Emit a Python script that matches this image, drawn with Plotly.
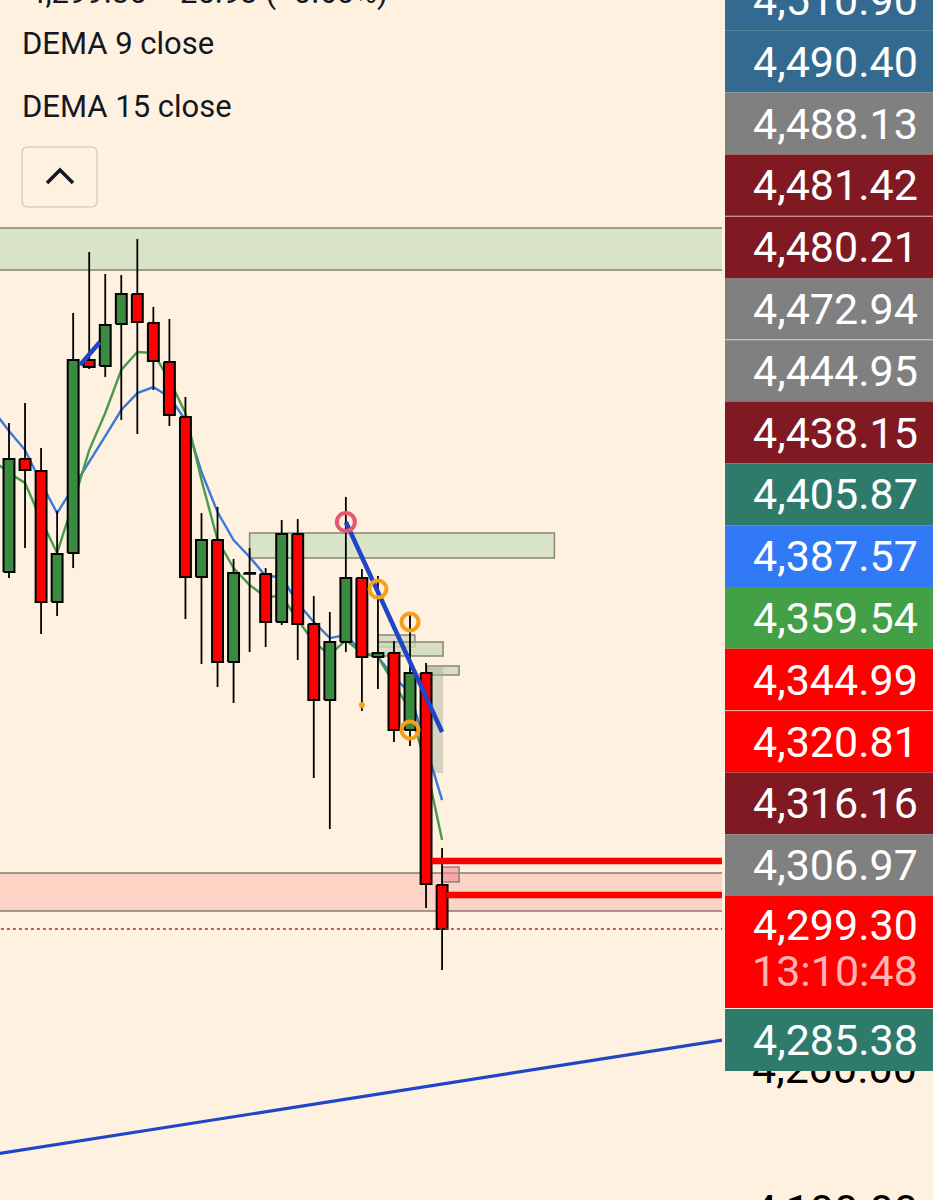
import plotly.graph_objects as go

W, H = 933, 1200
PLOT_RIGHT = 722
BG = "#fef1e0"
FONT = "Roboto"

# ---- candles (bar index, OHLC) ----
bar_idx = list(range(28))
opens = [4554.3, 4635.0, 4626.4, 4532.9, 4567.9, 4705.7, 4701.4, 4731.4, 4752.9, 4732.1,
         4704.3, 4665.0, 4550.7, 4577.1, 4490.0, 4553.6, 4552.9, 4518.6, 4581.4, 4517.1,
         4462.9, 4504.3, 4550.0, 4493.6, 4496.4, 4441.4, 4482.1, 4330.7]
highs = [4660.7, 4675.0, 4642.9, 4597.9, 4739.3, 4782.9, 4767.1, 4766.4, 4792.1, 4743.6,
         4735.0, 4679.3, 4596.4, 4600.7, 4563.6, 4571.4, 4557.1, 4591.4, 4592.1, 4537.1,
         4525.7, 4607.9, 4556.4, 4551.4, 4505.0, 4525.0, 4489.3, 4357.1]
lows = [4550.0, 4571.4, 4510.0, 4522.9, 4557.1, 4699.3, 4693.6, 4662.9, 4652.9, 4684.3,
        4658.6, 4520.7, 4488.6, 4472.1, 4460.7, 4497.1, 4500.7, 4516.4, 4491.4, 4407.1,
        4370.7, 4497.1, 4455.0, 4470.7, 4432.9, 4430.0, 4314.3, 4270.0]
closes = [4635.0, 4627.1, 4532.9, 4567.1, 4705.7, 4700.7, 4730.7, 4752.9, 4732.9, 4705.0,
          4666.4, 4550.7, 4577.1, 4490.0, 4553.6, 4553.0, 4518.6, 4581.4, 4517.1, 4462.9,
          4504.3, 4550.0, 4493.6, 4496.4, 4441.4, 4482.1, 4331.4, 4299.3]
last_price = 4299.30

# ---- DEMA lines ----
dema_idx = list(range(-1, 28))
dema9 = [4634.3, 4625.0, 4617.9, 4591.4, 4567.9, 4603.6, 4641.4, 4667.9, 4698.6, 4711.4,
         4710.7, 4691.4, 4667.9, 4620.0, 4577.1, 4557.1, 4545.0, 4536.4, 4537.1, 4520.0,
         4504.3, 4495.0, 4505.7, 4496.4, 4493.6, 4475.0, 4455.7, 4416.4, 4362.9]
dema15 = [4670.0, 4655.0, 4641.4, 4617.9, 4596.4, 4614.3, 4632.9, 4651.4, 4670.0, 4682.1,
          4686.4, 4679.3, 4662.9, 4625.7, 4597.1, 4577.1, 4565.0, 4551.4, 4550.7, 4532.1,
          4518.6, 4507.1, 4509.3, 4497.1, 4493.6, 4479.3, 4467.9, 4429.3, 4391.4]

# ---- drawings (bar index, price) ----
trend_main = [(21, 4590.0), (27, 4440.0)]
trend_short = [(4.43, 4702.1), (5.67, 4718.6)]
trend_long = [(-1, 4138.2), (45, 4220.9)]
wide_zones = [(4770.0, 4800.0, "#d9e4c6"), (4312.1, 4339.3, "#fdd3c6")]
boxes = [  # x0, x1, y0, y1, fill
    (15.0, 34.0, 4564.3, 4582.1, "#d9e4c6"),
    (23.0, 25.3, 4500.7, 4509.3, "rgba(205,218,185,0.8)"),
    (23.0, 27.06, 4494.3, 4504.3, "rgba(205,218,185,0.8)"),
    (26.06, 28.06, 4480.7, 4487.1, "rgba(205,218,185,0.8)"),
    (27.0, 28.06, 4332.9, 4343.6, "rgba(240,140,140,0.6)"),
]
gray_rect = (26.06, 27.06, 4410.7, 4487.1)
red_rays = [(26.37, 4347.9), (27.3, 4323.6)]
pivot_high = (21, 4590.0)
orange_rings = [(23, 4542.1), (25, 4518.6), (25, 4441.4)]
orange_dot = (22, 4459.3)

# ---- price scale labels ----
tag_values = [4510.90, 4490.40, 4488.13, 4481.42, 4480.21, 4472.94, 4444.95, 4438.15,
              4405.87, 4387.57, 4359.54, 4344.99, 4320.81, 4316.16, 4306.97]
tag_colors = ["#346a8f", "#346a8f", "#808080", "#801922", "#801922", "#808080", "#808080",
              "#801922", "#2e7b6c", "#3179f5", "#43a047", "#ff0000", "#ff0000", "#801922",
              "#808080"]
countdown = "13:10:48"
last_tag_value = 4285.38
axis_ticks = [4100, 4200]

TAG_FONT = 43


def px(x):
    return x / W


def py(y):
    return 1 - y / H


fig = go.Figure()

fig.add_trace(go.Scatter(x=dema_idx, y=dema15, mode="lines",
                         line=dict(color="#3b78da", width=2.4), name="DEMA 15 close"))
fig.add_trace(go.Scatter(x=dema_idx, y=dema9, mode="lines",
                         line=dict(color="#4a9a4c", width=2.4), name="DEMA 9 close"))

# wicks in two parts so they never cross the bodies
wx, wy = [], []
for i, o, h, l, c in zip(bar_idx, opens, highs, lows, closes):
    top, bot = max(o, c), min(o, c)
    wx += [i, i, None, i, i, None]
    wy += [h, top, None, bot, l, None]
fig.add_trace(go.Scatter(x=wx, y=wy, mode="lines", line=dict(color="#000", width=1.8),
                         hoverinfo="skip"))

# bodies as filled polygons, drawn after the averages so they sit on top
half = 0.34
for up, fill in [(True, "#3a8b3f"), (False, "#ff0000")]:
    bx, by = [], []
    for i, o, c in zip(bar_idx, opens, closes):
        if (c >= o) != up:
            continue
        bx += [i - half, i + half, i + half, i - half, i - half, None]
        by += [o, o, c, c, o, None]
    fig.add_trace(go.Scatter(x=bx, y=by, mode="lines", fill="toself", fillcolor=fill,
                             line=dict(color="#000", width=2), hoverinfo="skip"))

for (x0, y0), (x1, y1), wdt in [(trend_main[0], trend_main[1], 4.5),
                                (trend_short[0], trend_short[1], 4.5),
                                (trend_long[0], trend_long[1], 3.2)]:
    fig.add_trace(go.Scatter(x=[x0, x1], y=[y0, y1], mode="lines",
                             line=dict(color="#2045c6", width=wdt)))

fig.add_trace(go.Scatter(x=[pivot_high[0]], y=[pivot_high[1]], mode="markers",
                         marker=dict(symbol="circle-open", size=18, color="#e8576e",
                                     line=dict(width=4))))
fig.add_trace(go.Scatter(x=[p[0] for p in orange_rings], y=[p[1] for p in orange_rings],
                         mode="markers",
                         marker=dict(symbol="circle-open", size=17, color="#f5a01a",
                                     line=dict(width=4))))
fig.add_trace(go.Scatter(x=[orange_dot[0]], y=[orange_dot[1]], mode="markers",
                         marker=dict(size=6, color="#f5a01a")))

shapes = []
for y0, y1, fill in wide_zones:
    shapes.append(dict(type="rect", xref="x", yref="y", x0=-2, x1=50, y0=y0, y1=y1,
                       fillcolor=fill, line=dict(color="#857f72", width=1.5), layer="below"))
for x0, x1, y0, y1, fill in boxes:
    shapes.append(dict(type="rect", xref="x", yref="y", x0=x0, x1=x1, y0=y0, y1=y1,
                       fillcolor=fill, line=dict(color="#8a8478", width=1.5), layer="below"))
shapes.append(dict(type="rect", xref="x", yref="y", x0=gray_rect[0], x1=gray_rect[1],
                   y0=gray_rect[2], y1=gray_rect[3], fillcolor="rgba(165,175,150,0.45)",
                   line=dict(width=0), layer="below"))
for x0, y in red_rays:
    shapes.append(dict(type="line", xref="x", yref="y", x0=x0, x1=50, y0=y, y1=y,
                       line=dict(color="#ff0000", width=6.5)))
shapes.append(dict(type="line", xref="x", yref="y", x0=-2, x1=50, y0=last_price,
                   y1=last_price, line=dict(color="#a0302a", width=1.5, dash="dot")))

# price tags on the right
tag_left = px(725)
row_h = 61.8
annotations = []
for k, (v, col) in enumerate(zip(tag_values, tag_colors)):
    top = -31 + row_h * k
    shapes.append(dict(type="rect", xref="paper", yref="paper", x0=tag_left, x1=1,
                       y0=py(top + row_h), y1=py(top), fillcolor=col, line=dict(width=0),
                       layer="above"))
    if k > 1 and col == tag_colors[k - 1]:
        shapes.append(dict(type="line", xref="paper", yref="paper", x0=tag_left, x1=1,
                           y0=py(top), y1=py(top), line=dict(color="rgba(255,225,220,0.7)",
                                                             width=1), layer="above"))
    annotations.append(dict(xref="paper", yref="paper", x=px(920), y=py(top + 31),
                            xanchor="right", yanchor="middle", showarrow=False,
                            text=f"{v:,.2f}",
                            font=dict(family=FONT, size=TAG_FONT, color="#fff")))
cur_top = -31 + row_h * len(tag_values)
shapes.append(dict(type="rect", xref="paper", yref="paper", x0=tag_left, x1=1,
                   y0=py(cur_top + 112), y1=py(cur_top), fillcolor="#ff0000",
                   line=dict(width=0), layer="above"))
annotations.append(dict(xref="paper", yref="paper", x=px(920), y=py(cur_top + 29),
                        xanchor="right", yanchor="middle", showarrow=False,
                        text=f"{last_price:,.2f}",
                        font=dict(family=FONT, size=TAG_FONT, color="#fff")))
annotations.append(dict(xref="paper", yref="paper", x=px(920), y=py(cur_top + 75),
                        xanchor="right", yanchor="middle", showarrow=False,
                        text=countdown, font=dict(family=FONT, size=TAG_FONT, color="#ffb4b4")))
lt_top = cur_top + 113
shapes.append(dict(type="rect", xref="paper", yref="paper", x0=tag_left, x1=1,
                   y0=py(lt_top + 62), y1=py(lt_top), fillcolor="#2e7b6c",
                   line=dict(width=0), layer="above"))
annotations.append(dict(xref="paper", yref="paper", x=px(920), y=py(lt_top + 31),
                        xanchor="right", yanchor="middle", showarrow=False,
                        text=f"{last_tag_value:,.2f}",
                        font=dict(family=FONT, size=TAG_FONT, color="#fff")))
# tick below the visible range, cut by the window edge
annotations.append(dict(xref="paper", yref="paper", x=px(751), y=py(1210),
                        xanchor="left", yanchor="middle", showarrow=False,
                        text=f"{axis_ticks[0]:,.2f}",
                        font=dict(family=FONT, size=TAG_FONT, color="#000")))

# header / legend
annotations.append(dict(xref="paper", yref="paper", x=px(26), y=py(-7), xanchor="left",
                        yanchor="middle", showarrow=False,
                        text="4,299.30  −25.93 (−0.60%)",
                        font=dict(family=FONT, size=31, color="#131722")))
for txt, yy in [("DEMA 9 close", 44), ("DEMA 15 close", 106)]:
    annotations.append(dict(xref="paper", yref="paper", x=px(20), y=py(yy), xanchor="left",
                            yanchor="middle", showarrow=False, text=txt,
                            font=dict(family=FONT, size=31, color="#131722")))

# collapse button
bx0, by0, bx1, by1, r = 22, 147, 97, 207, 6
btn = (f"M {px(bx0 + r)},{py(by0)} L {px(bx1 - r)},{py(by0)} "
       f"Q {px(bx1)},{py(by0)} {px(bx1)},{py(by0 + r)} L {px(bx1)},{py(by1 - r)} "
       f"Q {px(bx1)},{py(by1)} {px(bx1 - r)},{py(by1)} L {px(bx0 + r)},{py(by1)} "
       f"Q {px(bx0)},{py(by1)} {px(bx0)},{py(by1 - r)} L {px(bx0)},{py(by0 + r)} "
       f"Q {px(bx0)},{py(by0)} {px(bx0 + r)},{py(by0)} Z")
shapes.append(dict(type="path", xref="paper", yref="paper", path=btn, fillcolor=BG,
                   line=dict(color="#d6cfc4", width=1.5), layer="above"))
shapes.append(dict(type="path", xref="paper", yref="paper",
                   path=f"M {px(47)},{py(183)} L {px(60)},{py(170)} L {px(73)},{py(183)}",
                   line=dict(color="#131722", width=3.5), layer="above"))

y_bottom = 4200 - 132 / 1.4
y_top = 4200 + 1068 / 1.4

fig.update_layout(
    width=W, height=H, margin=dict(l=0, r=0, t=0, b=0),
    paper_bgcolor=BG, plot_bgcolor=BG, showlegend=False,
    font=dict(family=FONT),
    shapes=shapes, annotations=annotations,
    xaxis=dict(domain=[0, PLOT_RIGHT / W], range=[-0.561, 44.45], showgrid=False,
               zeroline=False, showticklabels=False, showline=False, fixedrange=True),
    yaxis=dict(range=[y_bottom, y_top], side="right", showgrid=False, zeroline=False,
               showline=False, ticks="", tickvals=axis_ticks,
               ticktext=[f"{v:,.2f}" for v in axis_ticks],
               tickfont=dict(family=FONT, size=TAG_FONT, color="#000"),
               ticklabelstandoff=29, fixedrange=True),
)

fig.write_html("out.html", config={"displayModeBar": False},
               post_script="document.body.style.margin='0';"
                           "document.body.style.background='" + BG + "';")
